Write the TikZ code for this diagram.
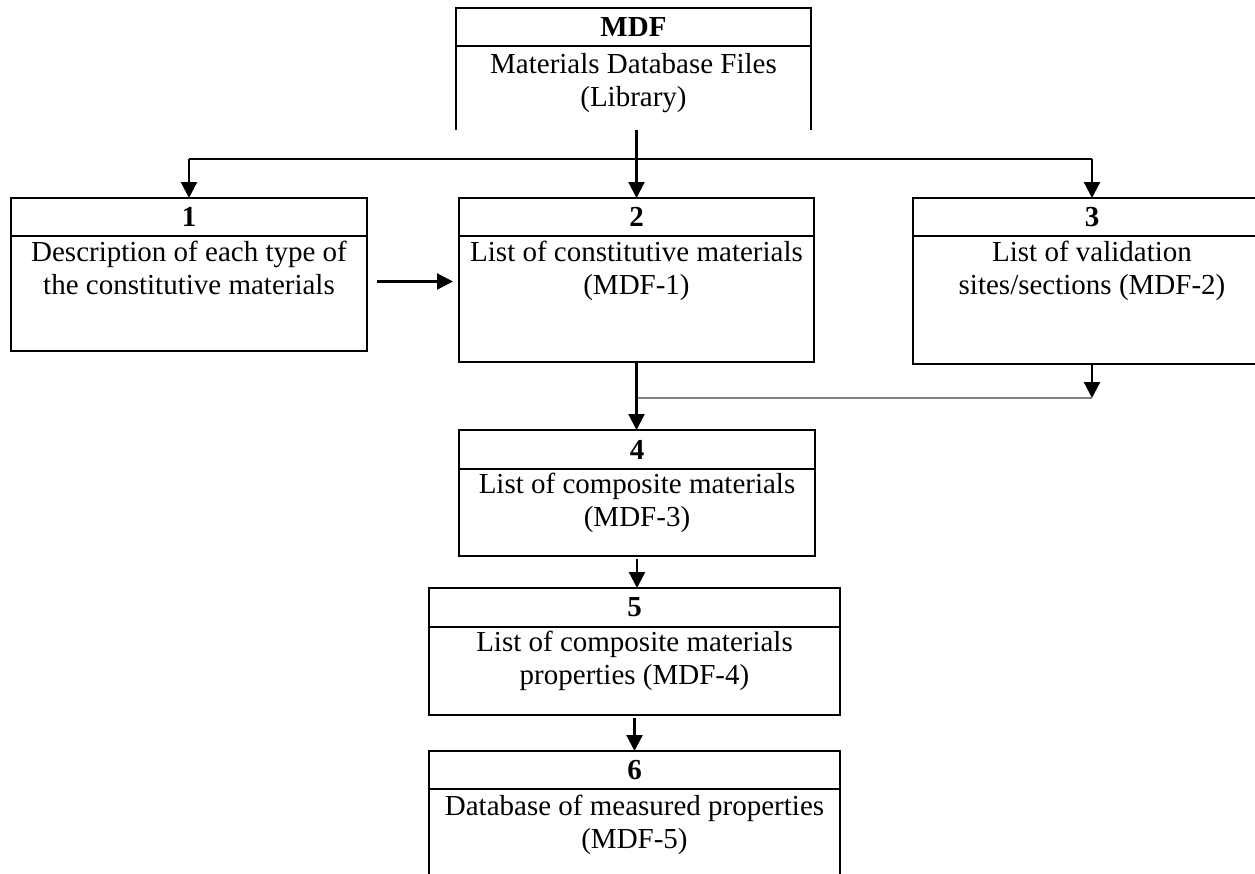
\documentclass[tikz,border=0pt]{standalone}
\usepackage{fontspec}
\setmainfont{Liberation Serif}
\usetikzlibrary{arrows.meta}

\begin{document}
\begin{tikzpicture}[x=1pt,y=-1pt,
  font=\fontsize{29}{33}\selectfont,
  headbox/.style={draw, line width=1.7pt, minimum height=38pt, inner sep=0pt, outer sep=0pt, font=\fontsize{29}{33}\selectfont\bfseries},
  bodybox/.style={draw, line width=1.7pt, anchor=north, inner sep=0pt, outer sep=0pt},
  bodytext/.style={align=center, anchor=north, inner sep=0pt},
  arr/.style={line width=2.2pt, -{Triangle[length=16pt,width=16pt]}},
  boxline/.style={line width=1.7pt}]
\useasboundingbox (0,0) rectangle (1255,873);
\clip (0,0) rectangle (1255,873);

% library box, open at the bottom
\node[headbox, minimum width=355pt] (head0) at (633.5,27) {MDF};
\node[bodybox, draw=none, minimum width=355pt, minimum height=84pt] (body0) at (head0.south) {};
\draw[boxline] (body0.north west) -- (body0.south west);
\draw[boxline] (body0.north east) -- (body0.south east);
\node[bodytext] (txt0) at ([yshift=-4pt]body0.north) {\strut Materials Database Files\\(Library)};

% first row
\node[headbox, minimum width=356pt] (head1) at (189,217) {1};
\node[bodybox, minimum width=356pt, minimum height=115pt] (body1) at (head1.south) {};
\node[bodytext] (txt1) at ([yshift=-2pt]body1.north) {\strut Description of each type of\\the constitutive materials};

\node[headbox, minimum width=355pt] (head2) at (636.5,217) {2};
\node[bodybox, minimum width=355pt, minimum height=126pt] (body2) at (head2.south) {};
\node[bodytext] (txt2) at ([yshift=-2pt]body2.north) {\strut List of constitutive materials\\(MDF-1)};

\node[headbox, minimum width=358pt] (head3) at (1092,217) {3};
\node[bodybox, minimum width=358pt, minimum height=128pt] (body3) at (head3.south) {};
\node[bodytext] (txt3) at ([yshift=-2pt]body3.north) {\strut List of validation\\sites/sections (MDF-2)};

% column below
\node[headbox, minimum width=356pt, minimum height=39pt] (head4) at (637,449.5) {4};
\node[bodybox, minimum width=356pt, minimum height=87pt] (body4) at (head4.south) {};
\node[bodytext] (txt4) at ([yshift=-1pt]body4.north) {\strut List of composite materials\\(MDF-3)};

\node[headbox, minimum width=411pt, minimum height=39pt] (head5) at (634.5,607.5) {5};
\node[bodybox, minimum width=411pt, minimum height=88pt] (body5) at (head5.south) {};
\node[bodytext] (txt5) at ([yshift=-1pt]body5.north) {\strut List of composite materials\\properties (MDF-4)};

\node[headbox, minimum width=411pt] (head6) at (634.5,770) {6};
\node[bodybox, draw=none, minimum width=411pt, minimum height=100pt] (body6) at (head6.south) {};
\draw[boxline] (body6.north west) -- (body6.south west);
\draw[boxline] (body6.north east) -- (body6.south east);
\node[bodytext] (txt6) at ([yshift=-3pt]body6.north) {\strut Database of measured properties\\(MDF-5)};

% connectors
\coordinate (split) at ([yshift=-29pt]body0.south -| head2.north);
\draw[line width=2.2pt] (split -| head1.north) -- (split -| head3.north);
\draw[arr] (split -| head1.north) -- (head1.north);
\draw[arr] (split -| head3.north) -- (head3.north);
\draw[arr] (body0.south -| head2.north) -- (head2.north);

\coordinate (side) at ([yshift=12pt]body1.east);
\draw[arr, shorten <=10pt, shorten >=6pt] (side) -- (side -| body2.west);

\coordinate (merge) at ([yshift=-36pt]body2.south);
\draw[gray, line width=2.2pt] (merge) -- (merge -| body3.south);
\draw[arr] (body3.south) -- (merge -| body3.south);
\draw[arr] (body2.south) -- (body2.south |- head4.north);
\draw[arr, shorten <=3pt] (body4.south) -- (body4.south |- head5.north);
\draw[arr, shorten <=3pt] (body5.south) -- (body5.south |- head6.north);
\end{tikzpicture}
\end{document}
